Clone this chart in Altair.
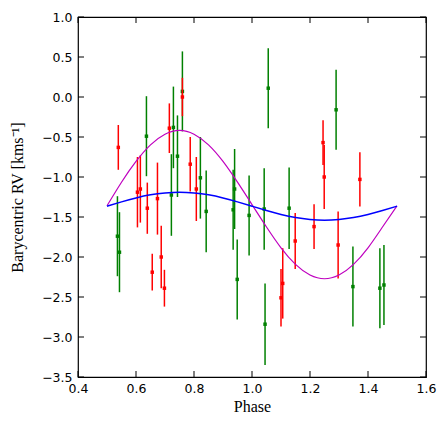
import altair as alt
import pandas as pd

# ---- data ----
red_phase = [0.539, 0.605, 0.615, 0.639, 0.656, 0.674, 0.687, 0.698, 0.715, 0.760,
             0.787, 0.808, 1.100, 1.106, 1.149, 1.214, 1.245, 1.249, 1.297, 1.372]
red_rv = [-0.63, -1.19, -1.15, -1.39, -2.19, -1.27, -2.00, -2.39, -0.39, 0.00,
          -0.84, -1.15, -2.51, -2.33, -1.80, -1.62, -0.57, -1.00, -1.85, -1.03]
red_err = [0.28, 0.44, 0.42, 0.32, 0.23, 0.45, 0.39, 0.23, 0.31, 0.24,
           0.34, 0.40, 0.36, 0.44, 0.35, 0.28, 0.28, 0.40, 0.42, 0.34]

green_phase = [0.536, 0.543, 0.636, 0.722, 0.729, 0.743, 0.760, 0.822, 0.842, 0.935,
               0.940, 0.949, 0.990, 1.042, 1.045, 1.056, 1.128, 1.290, 1.348, 1.441, 1.455]
green_rv = [-1.74, -1.94, -0.49, -1.225, -0.38, -0.74, 0.07, -1.01, -1.43, -1.41,
            -1.15, -2.28, -1.48, -1.40, -2.84, 0.11, -1.39, -0.16, -2.37, -2.39, -2.35]
green_err = [0.50, 0.50, 0.50, 0.51, 0.51, 0.51, 0.50, 0.51, 0.51, 0.50,
             0.50, 0.50, 0.50, 0.51, 0.51, 0.50, 0.51, 0.50, 0.50, 0.50, 0.50]

curve_phase = [0.50, 0.55, 0.60, 0.65, 0.70, 0.75, 0.80, 0.85, 0.90, 0.95, 1.00,
               1.05, 1.10, 1.15, 1.20, 1.25, 1.30, 1.35, 1.40, 1.45, 1.50]
blue_rv = [-1.365, -1.311, -1.262, -1.223, -1.199, -1.190, -1.199, -1.223, -1.262, -1.311, -1.365,
           -1.419, -1.468, -1.507, -1.531, -1.540, -1.531, -1.507, -1.468, -1.419, -1.365]
magenta_rv = [-1.360, -1.065, -0.805, -0.598, -0.465, -0.418, -0.465, -0.598, -0.805, -1.065, -1.345,
              -1.625, -1.885, -2.092, -2.225, -2.272, -2.225, -2.092, -1.885, -1.625, -1.360]

x_ticks = [0.4, 0.6, 0.8, 1.0, 1.2, 1.4, 1.6]
y_ticks = [-3.5, -3.0, -2.5, -2.0, -1.5, -1.0, -0.5, 0.0, 0.5, 1.0]

W, H = 348, 360

red = pd.DataFrame({"phase": red_phase, "rv": red_rv, "err": red_err})
red["lo"] = red["rv"] - red["err"]
red["hi"] = red["rv"] + red["err"]
green = pd.DataFrame({"phase": green_phase, "rv": green_rv, "err": green_err})
green["lo"] = green["rv"] - green["err"]
green["hi"] = green["rv"] + green["err"]
curves = pd.DataFrame({"phase": curve_phase, "blue": blue_rv, "magenta": magenta_rv})
xt = pd.DataFrame({"v": x_ticks})
yt = pd.DataFrame({"v": y_ticks})

minus = "replace(datum.label, '-', '\u2212')"
xs = alt.Scale(domain=[0.4, 1.6], nice=False, zero=False)
ys = alt.Scale(domain=[-3.5, 1.0], nice=False, zero=False)

X = alt.X("phase:Q", scale=xs, axis=alt.Axis(
    title="Phase", values=x_ticks, format=".1f", labelExpr=minus, grid=False,
    ticks=False, domain=False, labelPadding=5, labelFont="DejaVu Sans", labelFontSize=12.5,
    labelColor="black", labelFlush=False, labelOverlap=False, labelBound=False,
    titleFont="Liberation Serif", titleFontSize=16,
    titleFontWeight="normal", titleColor="black", titleY=29, titleBaseline="middle"))
Y = alt.Y("rv:Q", scale=ys, axis=alt.Axis(
    title="Barycentric RV [kms\u207b\u00b9]", values=y_ticks, format=".1f", labelExpr=minus,
    grid=False, ticks=False, domain=False, labelPadding=6, labelFont="DejaVu Sans",
    labelFontSize=12.5, labelColor="black", labelFlush=False, labelOverlap=False, labelBound=False,
    titleFont="Liberation Serif",
    titleFontSize=16, titleFontWeight="normal", titleColor="black",
    titleX=-61, titleY=H / 2, titleAngle=270, titleAlign="center", titleBaseline="middle"))

def qx(f):
    return alt.X(f, type="quantitative", scale=xs, axis=None)

def qy(f):
    return alt.Y(f, type="quantitative", scale=ys, axis=None)

def errbars(df, color):
    bars = alt.Chart(df).mark_rule(color=color, strokeWidth=1.5).encode(
        x=qx("phase"), y=qy("lo"), y2="hi:Q")
    pts = alt.Chart(df).mark_point(shape="square", filled=True, size=12, color=color, opacity=1).encode(
        x=qx("phase"), y=qy("rv"))
    return [bars, pts]

base_axes = alt.Chart(green).mark_point(opacity=0).encode(x=X, y=Y)

blue_line = alt.Chart(curves).mark_line(color="#0000ff", strokeWidth=1.5, interpolate="natural").encode(
    x=qx("phase"), y=qy("blue"))
mag_line = alt.Chart(curves).mark_line(color="#bf00bf", strokeWidth=1.2, interpolate="natural").encode(
    x=qx("phase"), y=qy("magenta"))

tl = 6
xticks_bottom = alt.Chart(xt).mark_rule(color="black", strokeWidth=1).encode(
    x=qx("v"), y=alt.value(H), y2=alt.value(H - tl))
xticks_top = alt.Chart(xt).mark_rule(color="black", strokeWidth=1).encode(
    x=qx("v"), y=alt.value(0), y2=alt.value(tl))
yticks_left = alt.Chart(yt).mark_rule(color="black", strokeWidth=1).encode(
    y=qy("v"), x=alt.value(0), x2=alt.value(tl))
yticks_right = alt.Chart(yt).mark_rule(color="black", strokeWidth=1).encode(
    y=qy("v"), x=alt.value(W), x2=alt.value(W - tl))

chart = alt.layer(
    base_axes, *errbars(green, "#008000"), *errbars(red, "#ff0000"),
    mag_line, blue_line,
    xticks_bottom, xticks_top, yticks_left, yticks_right,
).resolve_axis(x="independent", y="independent").properties(
    width=W, height=H,
    autosize=alt.AutoSizeParams(type="none"),
    padding={"left": 78, "top": 17, "right": 21, "bottom": 51},
    background="white",
).configure_view(stroke="black", strokeWidth=1.2)

chart.save("out.html", embed_options={"renderer": "svg", "actions": False})
